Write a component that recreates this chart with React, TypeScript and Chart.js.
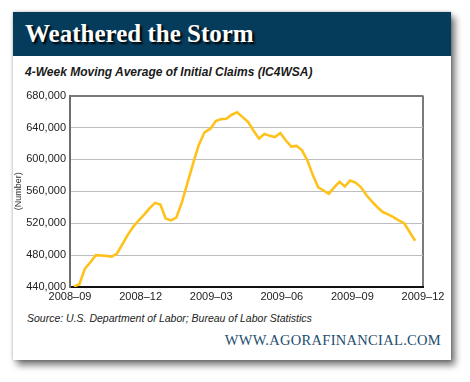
import React, { useEffect, useRef } from "react";
import { Chart, registerables } from "chart.js";

Chart.register(...registerables);

const weekDates: string[] = [
  "2008-09-06","2008-09-13","2008-09-20","2008-09-27","2008-10-04","2008-10-11","2008-10-18","2008-10-25",
  "2008-11-01","2008-11-08","2008-11-15","2008-11-22","2008-11-29","2008-12-06","2008-12-13","2008-12-20",
  "2008-12-27","2009-01-03","2009-01-10","2009-01-17","2009-01-24","2009-01-31","2009-02-07","2009-02-14",
  "2009-02-21","2009-02-28","2009-03-07","2009-03-14","2009-03-21","2009-03-28","2009-04-04","2009-04-11",
  "2009-04-18","2009-04-25","2009-05-02","2009-05-09","2009-05-16","2009-05-23","2009-05-30","2009-06-06",
  "2009-06-13","2009-06-20","2009-06-27","2009-07-04","2009-07-11","2009-07-18","2009-07-25","2009-08-01",
  "2009-08-08","2009-08-15","2009-08-22","2009-08-29","2009-09-05","2009-09-12","2009-09-19","2009-09-26",
  "2009-10-03","2009-10-10","2009-10-17","2009-10-24","2009-10-31","2009-11-07","2009-11-14","2009-11-21",
];

const claims: number[] = [
  440500, 443500, 463000, 471000, 480000, 479500, 479000, 478000,
  482000, 494000, 506000, 516000, 524000, 531000, 539000, 545500,
  543500, 526000, 523500, 527000, 545000, 568000, 593000, 617500,
  634000, 638500, 648000, 650500, 651000, 656000, 659000, 653000,
  647000, 636000, 626000, 632000, 629500, 628000, 633000, 624000,
  616000, 617000, 611000, 598000, 580000, 565000, 561000, 557000,
  565000, 572000, 566000, 573500, 571000, 565000, 555000, 547000,
  540000, 534000, 531000, 527500, 523500, 520000, 509000, 498000,
];

const xTickLabels: string[] = ["2008–09", "2008–12", "2009–03", "2009–06", "2009–09", "2009–12"];
const yMin = 440000;
const yMax = 680000;
const yStep = 40000;

const startYear = 2008;
const startMonth = 9;

function monthsSinceStart(d: string): number {
  const [y, m, day] = d.split("-").map(Number);
  const dim = new Date(y, m, 0).getDate();
  return (y - startYear) * 12 + (m - startMonth) + (day - 1) / dim;
}

const SANS = "'Liberation Sans', Arial, sans-serif";
const SERIF = "'Liberation Serif', 'Times New Roman', serif";

function ClaimsChart() {
  const ref = useRef<HTMLCanvasElement | null>(null);
  useEffect(() => {
    if (!ref.current) return;
    const points = weekDates.map((d, i) => ({ x: monthsSinceStart(d), y: claims[i] }));
    const chart = new Chart(ref.current, {
      type: "line",
      data: {
        datasets: [
          {
            data: points,
            borderColor: "#FFC21A",
            borderWidth: 2.6,
            pointRadius: 0,
            tension: 0,
            fill: false,
          },
        ],
      },
      options: {
        animation: false,
        responsive: false,
        maintainAspectRatio: false,
        layout: { padding: { top: 10, right: 28, left: 0, bottom: 0 } },
        plugins: { legend: { display: false }, tooltip: { enabled: false } },
        scales: {
          x: {
            type: "linear",
            min: 0,
            max: (xTickLabels.length - 1) * 3,
            afterBuildTicks: (scale: any) => {
              scale.ticks = xTickLabels.map((_, i) => ({ value: i * 3 }));
            },
            afterFit: (scale: any) => {
              scale.height = 23;
            },
            ticks: {
              callback: (v: any) => xTickLabels[Math.round(Number(v) / 3)] ?? "",
              color: "#222",
              font: { family: SANS, size: 11 },
              padding: 3,
              maxRotation: 0,
              autoSkip: false,
            },
            grid: {
              drawTicks: false,
              color: (ctx: any) => (ctx.tick && ctx.tick.value === (xTickLabels.length - 1) * 3 ? "#7a7a7a" : "rgba(0,0,0,0)"),
              lineWidth: 2,
            },
            border: { color: "#111", width: 2 },
          },
          y: {
            min: yMin,
            max: yMax,
            afterFit: (scale: any) => {
              scale.width = 57;
            },
            ticks: {
              stepSize: yStep,
              callback: (v: any) => Number(v).toLocaleString("en-US"),
              color: "#222",
              font: { family: SANS, size: 11 },
              padding: 4,
            },
            grid: {
              drawTicks: false,
              color: (ctx: any) => (ctx.tick && ctx.tick.value === yMax ? "#7a7a7a" : "#bdbdbd"),
              lineWidth: (ctx: any) => (ctx.tick && ctx.tick.value === yMax ? 2 : 1),
            },
            border: { color: "#6e6e6e", width: 2 },
            title: {
              display: true,
              text: "(Number)",
              color: "#333",
              font: { family: SANS, size: 9 },
              padding: { top: 0, bottom: 0 },
            },
          },
        },
      },
    });
    return () => chart.destroy();
  }, []);
  return <canvas ref={ref} width={438} height={225} style={{ position: "absolute", left: 0, top: 73, width: 438, height: 225 }} />;
}

export default function App() {
  return (
    <div style={{ position: "absolute", left: 0, top: 0, width: 470, height: 382, background: "#fff", overflow: "hidden" }}>
      <div
        style={{
          position: "absolute",
          left: 13,
          top: 12,
          width: 438,
          height: 348,
          background: "#fff",
          boxShadow: "4px 5px 7px rgba(0,0,0,0.55), 0 0 3px rgba(0,0,0,0.25)",
        }}
      >
        <div style={{ position: "absolute", left: 0, top: 0, width: 438, height: 44, background: "#053b5b" }} />
        <div
          style={{
            position: "absolute",
            left: 12,
            top: 7,
            color: "#fff",
            fontFamily: SERIF,
            fontWeight: "bold",
            fontSize: 25,
            lineHeight: "30px",
            whiteSpace: "nowrap",
            textShadow: "2px 2px 2px #000",
          }}
        >
          Weathered the Storm
        </div>
        <div
          style={{
            position: "absolute",
            left: 12,
            top: 52,
            color: "#1a1a1a",
            fontFamily: SANS,
            fontWeight: "bold",
            fontStyle: "italic",
            fontSize: 12,
            lineHeight: "16px",
            whiteSpace: "nowrap",
          }}
        >
          4-Week Moving Average of Initial Claims (IC4WSA)
        </div>
        <ClaimsChart />
        <div
          style={{
            position: "absolute",
            left: 14,
            top: 299,
            color: "#222",
            fontFamily: SANS,
            fontStyle: "italic",
            fontSize: 10.5,
            lineHeight: "14px",
            whiteSpace: "nowrap",
          }}
        >
          Source: U.S. Department of Labor; Bureau of Labor Statistics
        </div>
        <div
          style={{
            position: "absolute",
            right: 10,
            top: 319,
            color: "#1e4d6d",
            fontFamily: SERIF,
            fontSize: 14.5,
            lineHeight: "18px",
            letterSpacing: 0.3,
            whiteSpace: "nowrap",
          }}
        >
          WWW.AGORAFINANCIAL.COM
        </div>
      </div>
    </div>
  );
}
